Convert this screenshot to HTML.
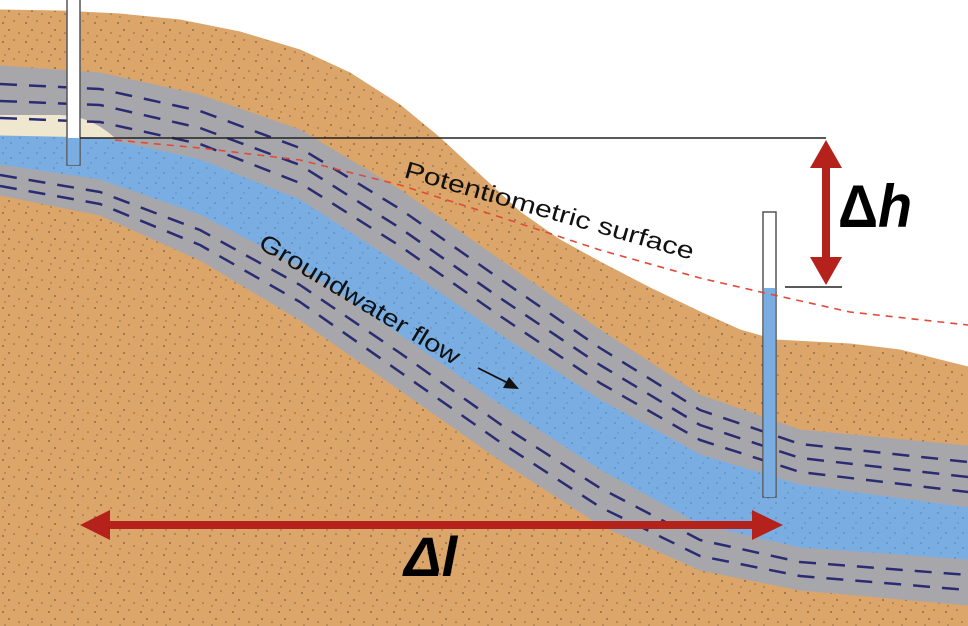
<!DOCTYPE html>
<html><head><style>html,body{margin:0;padding:0;background:#fff;}svg{display:block}</style></head>
<body>
<svg width="968" height="626" viewBox="0 0 968 626" xmlns="http://www.w3.org/2000/svg">
<defs>
<pattern id="dots" width="23" height="19" patternUnits="userSpaceOnUse">
<circle cx="3" cy="4" r="0.9" fill="#4a3a2a" opacity="0.7"/>
<circle cx="14" cy="2" r="0.8" fill="#4a3a2a" opacity="0.6"/>
<circle cx="9" cy="11" r="0.9" fill="#4a3a2a" opacity="0.7"/>
<circle cx="19" cy="14" r="0.8" fill="#4a3a2a" opacity="0.6"/>
<circle cx="5" cy="17" r="0.7" fill="#4a3a2a" opacity="0.6"/>
</pattern>
<pattern id="bdots" width="17" height="15" patternUnits="userSpaceOnUse">
<circle cx="3" cy="3" r="0.8" fill="#3a5a8a" opacity="0.6"/>
<circle cx="11" cy="8" r="0.8" fill="#3a5a8a" opacity="0.6"/>
<circle cx="6" cy="13" r="0.7" fill="#3a5a8a" opacity="0.5"/>
</pattern>
</defs>
<rect width="968" height="626" fill="#fff"/>
<!-- ground -->
<polygon points="0,10 60,11 120,14 180,20 240,32 300,50 350,73 400,105 440,138 480,175 520,212 560,240 600,262 650,288 700,312 740,330 775,340 850,344 900,350 968,367 968,626 0,626" fill="#dca56a" stroke="#dca56a" stroke-linejoin="round"/>
<polygon points="0,10 60,11 120,14 180,20 240,32 300,50 350,73 400,105 440,138 480,175 520,212 560,240 600,262 650,288 700,312 740,330 775,340 850,344 900,350 968,367 968,626 0,626" fill="url(#dots)"/>
<!-- upper gray -->
<polygon points="0,66 100,73 200,95 300,130 400,190 500,260 600,330 700,395 800,430 968,446 968,508 800,485 700,455 600,400 500,335 400,265 300,200 200,160 100,138 0,136" fill="#a7a7ab" stroke="#a7a7ab" stroke-linejoin="round"/>
<!-- lens -->
<path d="M0,115 L60,115 C85,116 100,125 115,138 L0,138 Z" fill="#efe8cf"/>
<!-- blue -->
<polygon points="0,136 100,138 200,160 300,200 400,265 500,335 600,400 700,455 800,485 968,508 968,560 800,548 700,525 600,470 500,405 400,335 300,267 200,215 100,180 0,165" fill="#7aaee2" stroke="#7aaee2" stroke-linejoin="round"/>
<polygon points="0,136 100,138 200,160 300,200 400,265 500,335 600,400 700,455 800,485 968,508 968,560 800,548 700,525 600,470 500,405 400,335 300,267 200,215 100,180 0,165" fill="url(#bdots)"/>
<!-- lower gray -->
<polygon points="0,165 100,180 200,215 300,267 400,335 500,405 600,470 700,525 800,548 968,560 968,605 800,590 700,570 600,525 500,460 400,390 300,320 200,260 100,215 0,195" fill="#a7a7ab" stroke="#a7a7ab" stroke-linejoin="round"/>
<g fill="none" stroke="#2b2b72" stroke-width="2.5" stroke-dasharray="17 12" stroke-linejoin="round">
<polyline points="0,84 100,89 200,111 300,148 400,209 500,279 600,348 700,410 800,444 968,462"/>
<polyline points="0,101 100,105 200,128 300,165 400,228 500,298 600,365 700,425 800,458 968,477"/>
<polyline points="0,118 100,122 200,144 300,183 400,246 500,316 600,383 700,440 800,472 968,492"/>
<polyline points="0,175 100,192 200,230 300,285 400,353 500,424 600,488 700,540 800,562 968,575"/>
<polyline points="0,186 100,204 200,245 300,302 400,372 500,442 600,507 700,556 800,576 968,590"/>
</g>
<!-- left well -->
<rect x="67" y="-2" width="13" height="167" fill="#fff" stroke="#555" stroke-width="1.5"/>
<rect x="68" y="138" width="11" height="27" fill="#7aaee2"/>
<!-- right well -->
<rect x="763" y="212" width="13" height="285" fill="#fff" stroke="#555" stroke-width="1.5"/>
<rect x="764" y="288" width="11" height="209" fill="#7aaee2"/>
<!-- lines -->
<line x1="80" y1="138" x2="826" y2="138" stroke="#222" stroke-width="1.5"/>
<line x1="785" y1="287" x2="842" y2="287" stroke="#222" stroke-width="1.5"/>
<polyline points="115,140 200,148 300,160 400,185 500,217 600,250 700,278 765,293 850,312 968,325" fill="none" stroke="#e04a3a" stroke-width="1.6" stroke-dasharray="7 6" stroke-linejoin="round"/>
<!-- Δh arrow -->
<line x1="826" y1="160" x2="826" y2="265" stroke="#b5221c" stroke-width="8"/>
<polygon points="826,140 810,168 842,168" fill="#b5221c"/>
<polygon points="826,285 810,257 842,257" fill="#b5221c"/>
<!-- Δl arrow -->
<line x1="105" y1="525" x2="760" y2="525" stroke="#b5221c" stroke-width="8"/>
<polygon points="80,525 110,510 110,540" fill="#b5221c"/>
<polygon points="783,525 752,510 752,540" fill="#b5221c"/>
<!-- labels -->
<text x="838" y="227" font-family="Liberation Sans, sans-serif" font-weight="bold" font-size="60" fill="#000" textLength="74" lengthAdjust="spacingAndGlyphs">Δ<tspan font-style="italic">h</tspan></text>
<text x="404" y="576" font-family="Liberation Sans, sans-serif" font-weight="bold" font-style="italic" font-size="56" fill="#000">Δl</text>
<text transform="translate(403,177) rotate(16)" font-family="Liberation Sans, sans-serif" font-size="24" fill="#111" textLength="300" lengthAdjust="spacingAndGlyphs">Potentiometric surface</text>
<text transform="translate(257,247) rotate(31)" font-family="Liberation Sans, sans-serif" font-size="24" fill="#111" textLength="230" lengthAdjust="spacingAndGlyphs">Groundwater flow</text>
<line x1="478" y1="368" x2="508" y2="383" stroke="#111" stroke-width="1.8"/>
<polygon points="519,389 503,388 509,377" fill="#111"/>
</svg>
</body></html>
